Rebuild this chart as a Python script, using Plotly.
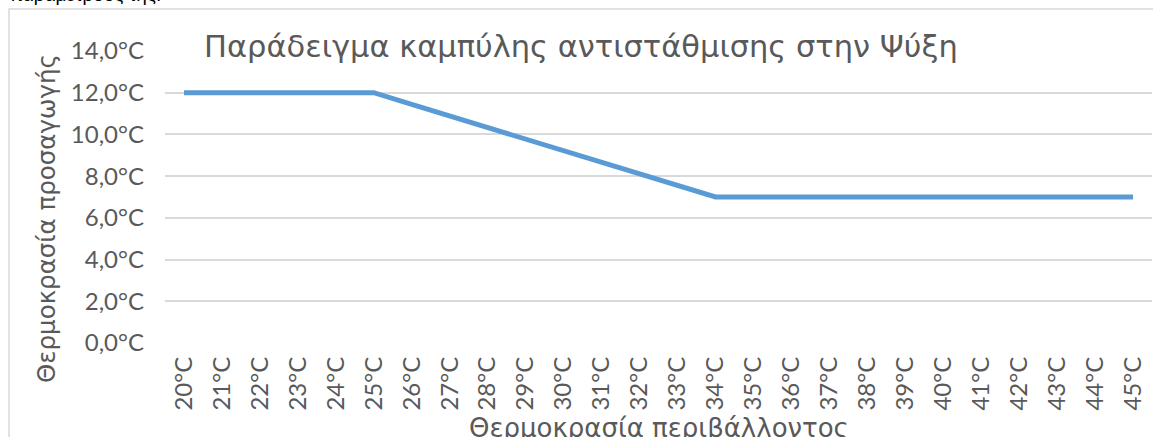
import plotly.graph_objects as go

ambient_temps = [20, 21, 22, 23, 24, 25, 26, 27, 28, 29, 30, 31, 32,
                 33, 34, 35, 36, 37, 38, 39, 40, 41, 42, 43, 44, 45]
categories = [f"{t}°C" for t in ambient_temps]
supply_temps = [12.0, 12.0, 12.0, 12.0, 12.0, 12.0, 11.44, 10.89, 10.33, 9.78,
                9.22, 8.67, 8.11, 7.56, 7.0, 7.0, 7.0, 7.0, 7.0, 7.0,
                7.0, 7.0, 7.0, 7.0, 7.0, 7.0]
y_ticks = [0, 2, 4, 6, 8, 10, 12, 14]
y_tick_labels = ["0,0°C", "2,0°C", "4,0°C", "6,0°C", "8,0°C", "10,0°C", "12,0°C", "14,0°C"]

title_text = "Παράδειγμα καμπύλης αντιστάθμισης στην Ψύξη"
y_title = "Θερμοκρασία προσαγωγής"
x_title = "Θερμοκρασία περιβάλλοντος"

TICK_FONT = "Lato"
TITLE_FONT = "DejaVu Sans"
GRAY = "#595959"

W, H = 1153, 437
L, R, T, B = 165, 1, 51, 94
PW, PH = W - L - R, H - T - B


def px(x):
    return (x - L) / PW


def py(y):
    return (H - B - y) / PH


fig = go.Figure()
fig.add_trace(go.Scatter(
    x=categories, y=supply_temps, mode="lines",
    line=dict(color="#5B9BD5", width=5),
    hoverinfo="x+y", showlegend=False,
))

fig.update_layout(
    width=W, height=H,
    margin=dict(l=L, r=R, t=T, b=B),
    paper_bgcolor="white", plot_bgcolor="white",
    font=dict(family=TICK_FONT, color=GRAY),
    xaxis=dict(
        type="category", range=[-0.5, len(categories) - 0.5],
        tickangle=-90, showgrid=False, showline=False,
        zeroline=False, ticks="", tickfont=dict(size=24, color=GRAY, family=TICK_FONT),
        ticklabelstandoff=8,
    ),
    yaxis=dict(
        range=[0, 14], tickvals=y_ticks, ticktext=y_tick_labels,
        showgrid=True, gridcolor="#D9D9D9", gridwidth=1.5, zeroline=False,
        showline=False, ticks="", tickfont=dict(size=24, color=GRAY, family=TICK_FONT),
        ticklabelstandoff=20,
    ),
    annotations=[
        dict(text=title_text, xref="paper", yref="paper", x=px(581), y=py(47),
             showarrow=False, font=dict(size=30.5, color=GRAY, family=TITLE_FONT),
             xanchor="center", yanchor="middle"),
        dict(text=y_title, xref="paper", yref="paper", x=px(46), y=py(219),
             showarrow=False, textangle=-90, font=dict(size=24.5, color=GRAY, family=TITLE_FONT),
             xanchor="center", yanchor="middle"),
        dict(text=x_title, xref="paper", yref="paper", x=px(659), y=py(428),
             showarrow=False, font=dict(size=26, color=GRAY, family=TITLE_FONT),
             xanchor="center", yanchor="middle"),
        dict(text="παραμέτρους της:", xref="paper", yref="paper", x=px(8), y=py(7),
             showarrow=False, font=dict(size=19, color="black", family="Liberation Sans"),
             xanchor="left", yanchor="bottom"),
    ],
    shapes=[
        dict(type="rect", xref="paper", yref="paper",
             x0=px(9), y0=py(460), x1=px(1170), y1=py(9),
             line=dict(color="#D9D9D9", width=1.5), layer="below"),
    ],
)

fig.write_html(
    "out.html",
    config={"displayModeBar": False},
    post_script="document.body.style.margin='0';document.body.style.overflow='hidden';",
)
